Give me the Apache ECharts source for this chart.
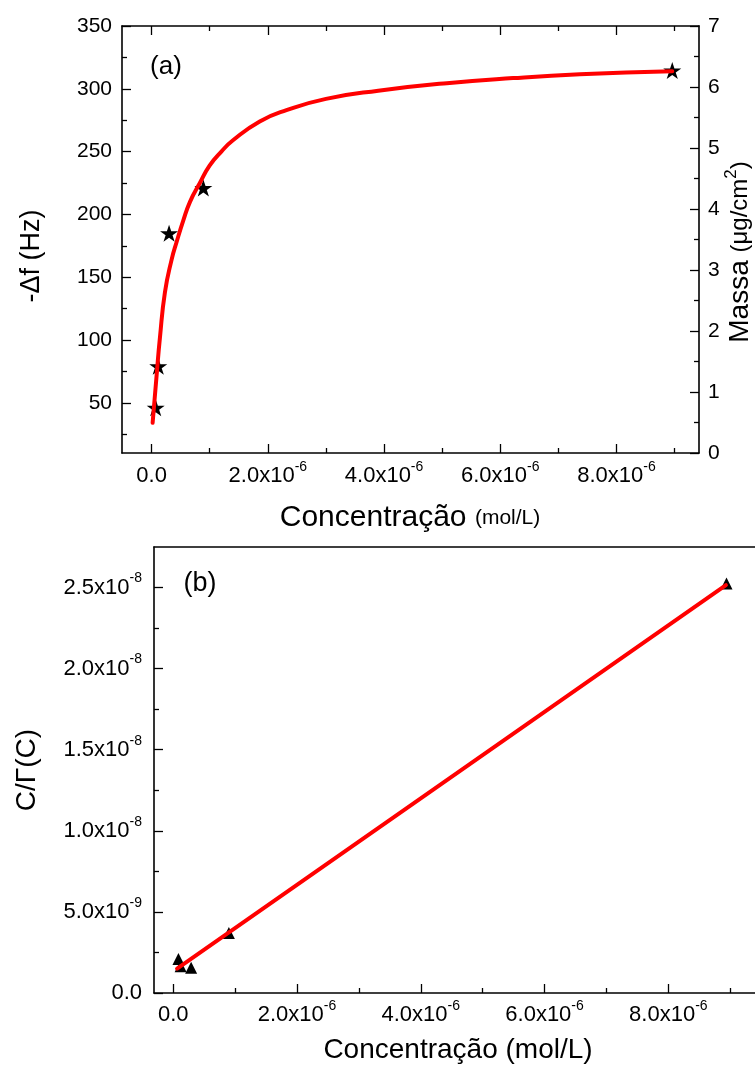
<!DOCTYPE html>
<html>
<head>
<meta charset="utf-8">
<script src="https://cdn.jsdelivr.net/npm/echarts@6/dist/echarts.min.js"></script>
<style>
html,body{margin:0;padding:0;background:#fff;}
#chart{width:755px;height:1075px;}
</style>
</head>
<body>
<div id="chart"></div>
<script>
// ---------- Data: panel (a) ----------
const concA = [0.07e-6, 0.114e-6, 0.30e-6, 0.89e-6, 8.96e-6];
const deltaF = [46, 79, 185, 221, 314.6];
const fitAConc = [0.017e-6, 0.086e-6, 0.143e-6, 0.229e-6, 0.344e-6, 0.43e-6, 0.544e-6, 0.66e-6, 0.83e-6, 1.0e-6, 1.2e-6, 1.4e-6, 1.86e-6, 2.32e-6, 3.0e-6, 3.9e-6, 5.08e-6, 6.22e-6, 7.37e-6, 8.96e-6];
const fitADeltaF = [34, 72, 102, 138, 164, 178, 195, 210, 225, 239, 250, 259, 274, 283, 292, 298.5, 304.5, 308.5, 311.5, 314];

// ---------- Data: panel (b) ----------
const concB = [0.085e-6, 0.12e-6, 0.29e-6, 0.9e-6, 8.94e-6];
const cGamma = [2.1e-9, 1.65e-9, 1.55e-9, 3.7e-9, 2.525e-8];
const fitBConc = [0.063e-6, 8.93e-6];
const fitBCGamma = [1.5e-9, 2.515e-8];

// ---------- Tick values & labels ----------
const concTickVals = [0, 2e-6, 4e-6, 6e-6, 8e-6];
const concTickLabels = ['0.0', '2.0x10^-6', '4.0x10^-6', '6.0x10^-6', '8.0x10^-6'];
const concMinorVals = [1e-6, 3e-6, 5e-6, 7e-6, 9e-6];
const dfTickVals = [50, 100, 150, 200, 250, 300, 350];
const dfTickLabels = ['50', '100', '150', '200', '250', '300', '350'];
const dfMinorVals = [25, 75, 125, 175, 225, 275, 325];
const massTickVals = [0, 1, 2, 3, 4, 5, 6, 7];
const massTickLabels = ['0', '1', '2', '3', '4', '5', '6', '7'];
const massMinorVals = [0.5, 1.5, 2.5, 3.5, 4.5, 5.5, 6.5];
const cgTickVals = [0, 5e-9, 1e-8, 1.5e-8, 2e-8, 2.5e-8];
const cgTickLabels = ['0.0', '5.0x10^-9', '1.0x10^-8', '1.5x10^-8', '2.0x10^-8', '2.5x10^-8'];
const cgMinorVals = [2.5e-9, 7.5e-9, 1.25e-8, 1.75e-8, 2.25e-8];

const FONT = "'Liberation Sans', Arial, sans-serif";

function richLabel(str) {
  const p = str.split('^');
  return p.length > 1 ? '{b|' + p[0] + '}{s|' + p[1] + '}' : '{b|' + p[0] + '}';
}
function makeFormatter(vals, labels) {
  return function (v) {
    let best = 0, bd = Infinity;
    for (let i = 0; i < vals.length; i++) {
      const d = Math.abs(vals[i] - v);
      if (d < bd) { bd = d; best = i; }
    }
    return richLabel(labels[best]);
  };
}
function richStyles(size) {
  return {
    b: { fontSize: size, fontFamily: FONT, color: '#000', lineHeight: size + 10 },
    s: { fontSize: Math.round(size * 0.62), fontFamily: FONT, color: '#000', verticalAlign: 'top', lineHeight: Math.round(size * 0.62) }
  };
}

const LINE = { show: true, onZero: false, lineStyle: { color: '#000', width: 1.6 } };
const NOLINE = { show: false, onZero: false };

function axis(opts) {
  return {
    type: 'value',
    gridIndex: opts.grid,
    position: opts.position,
    min: opts.min, max: opts.max,
    axisLine: opts.line ? LINE : NOLINE,
    splitLine: { show: false },
    axisTick: opts.ticks ? {
      show: true, inside: true, length: opts.tickLen,
      customValues: opts.ticks,
      lineStyle: { color: '#000', width: 1.3 }
    } : { show: false },
    axisLabel: opts.labels ? {
      show: true,
      customValues: opts.labelVals,
      margin: opts.margin,
      formatter: makeFormatter(opts.labelVals, opts.labels),
      rich: richStyles(opts.fontSize)
    } : { show: false }
  };
}

const xA = { min: -0.51e-6, max: 9.42e-6 };
const yA = { min: 10, max: 350 };
const xB = { min: -0.31e-6, max: 9.4e-6 };
const yB = { min: 0, max: 2.75e-8 };

const xAxes = [
  axis(Object.assign({ grid: 0, position: 'bottom', line: true, ticks: concTickVals, tickLen: 9, labels: concTickLabels, labelVals: concTickVals, margin: 7, fontSize: 22 }, xA)),
  axis(Object.assign({ grid: 0, position: 'bottom', line: false, ticks: concMinorVals, tickLen: 5 }, xA)),
  axis(Object.assign({ grid: 0, position: 'top', line: true, ticks: concTickVals, tickLen: 9 }, xA)),
  axis(Object.assign({ grid: 0, position: 'top', line: false, ticks: concMinorVals, tickLen: 5 }, xA)),
  axis(Object.assign({ grid: 1, position: 'bottom', line: true, ticks: concTickVals, tickLen: 9, labels: concTickLabels, labelVals: concTickVals, margin: 6, fontSize: 22 }, xB)),
  axis(Object.assign({ grid: 1, position: 'bottom', line: false, ticks: concMinorVals, tickLen: 5 }, xB)),
  axis(Object.assign({ grid: 1, position: 'top', line: true }, xB))
];
const yAxes = [
  axis(Object.assign({ grid: 0, position: 'left', line: true, ticks: dfTickVals, tickLen: 9, labels: dfTickLabels, labelVals: dfTickVals, margin: 10, fontSize: 21 }, yA)),
  axis(Object.assign({ grid: 0, position: 'left', line: false, ticks: dfMinorVals, tickLen: 5 }, yA)),
  axis({ grid: 0, position: 'right', min: 0, max: 7, line: true, ticks: massTickVals, tickLen: 9, labels: massTickLabels, labelVals: massTickVals, margin: 9, fontSize: 21 }),
  axis({ grid: 0, position: 'right', min: 0, max: 7, line: false, ticks: massMinorVals, tickLen: 5 }),
  axis(Object.assign({ grid: 1, position: 'left', line: true, ticks: cgTickVals, tickLen: 9, labels: cgTickLabels, labelVals: cgTickVals, margin: 12, fontSize: 22 }, yB)),
  axis(Object.assign({ grid: 1, position: 'left', line: false, ticks: cgMinorVals, tickLen: 5 }, yB))
];

const STAR = 'path://M50,0 L61.8,35.4 L99,35.4 L68.8,57.3 L80.4,92.7 L50,70.8 L19.6,92.7 L31.2,57.3 L1,35.4 L38.2,35.4 Z';

const zip = (a, b) => a.map((v, i) => [v, b[i]]);

const option = {
  animation: false,
  backgroundColor: '#fff',
  grid: [
    { left: 122, top: 26, width: 577, height: 427 },
    { left: 154, top: 547, width: 616, height: 446 }
  ],
  xAxis: xAxes,
  yAxis: yAxes,
  series: [
    { type: 'scatter', xAxisIndex: 0, yAxisIndex: 0, data: zip(concA, deltaF), symbol: STAR, symbolKeepAspect: true, symbolSize: 18, itemStyle: { color: '#000', opacity: 1 }, z: 2 },
    { type: 'line', xAxisIndex: 0, yAxisIndex: 0, data: zip(fitAConc, fitADeltaF), smooth: 0.5, showSymbol: false, lineStyle: { color: '#ff0000', width: 4, cap: 'round' }, z: 3 },
    { type: 'scatter', xAxisIndex: 4, yAxisIndex: 4, data: zip(concB, cGamma), symbol: 'triangle', symbolSize: 12, itemStyle: { color: '#000', opacity: 1 }, z: 2 },
    { type: 'line', xAxisIndex: 4, yAxisIndex: 4, data: zip(fitBConc, fitBCGamma), showSymbol: false, lineStyle: { color: '#ff0000', width: 4, cap: 'round' }, z: 3 }
  ],
  graphic: [
    { type: 'text', x: 166, y: 67, style: { text: '(a)', font: '26px ' + FONT, fill: '#000', align: 'center', verticalAlign: 'middle' } },
    { type: 'text', x: 200, y: 584, style: { text: '(b)', font: '27px ' + FONT, fill: '#000', align: 'center', verticalAlign: 'middle' } },
    { type: 'text', x: 32, y: 256, rotation: Math.PI / 2, style: { text: '-Δf (Hz)', font: '27px ' + FONT, fill: '#000', align: 'center', verticalAlign: 'middle' } },
    { type: 'text', x: 740, y: 252, rotation: Math.PI / 2, style: {
        text: '{a|Massa }{b|(μg/cm}{s|2}{b|)}', align: 'center', verticalAlign: 'middle',
        rich: {
          a: { font: '28px ' + FONT, fill: '#000', lineHeight: 34 },
          b: { font: '24px ' + FONT, fill: '#000', lineHeight: 34 },
          s: { font: '17px ' + FONT, fill: '#000', lineHeight: 16, verticalAlign: 'top' }
        } } },
    { type: 'text', x: 410, y: 518, style: {
        text: '{a|Concentração }{b|(mol/L)}', align: 'center', verticalAlign: 'middle',
        rich: {
          a: { font: '30px ' + FONT, fill: '#000', lineHeight: 34 },
          b: { font: '21px ' + FONT, fill: '#000', lineHeight: 34 }
        } } },
    { type: 'text', x: 458, y: 1050, style: { text: 'Concentração (mol/L)', font: '28px ' + FONT, fill: '#000', align: 'center', verticalAlign: 'middle' } },
    { type: 'text', x: 27, y: 770, rotation: Math.PI / 2, style: { text: 'C/Γ(C)', font: '28px ' + FONT, fill: '#000', align: 'center', verticalAlign: 'middle' } }
  ]
};

const chart = echarts.init(document.getElementById('chart'), null, { renderer: 'canvas' });
chart.setOption(option);
</script>
</body>
</html>
